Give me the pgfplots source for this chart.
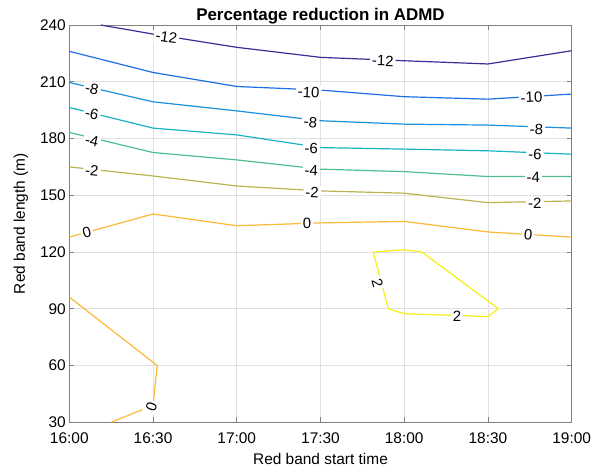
\documentclass[border=0pt]{standalone}
\usepackage{fontspec}
\setmainfont{Liberation Sans}
\usepackage{pgfplots}
\pgfplotsset{compat=1.18}
\definecolor{c12}{RGB}{60,45,150}
\definecolor{c10}{RGB}{30,110,230}
\definecolor{c8}{RGB}{25,145,220}
\definecolor{c6}{RGB}{25,180,195}
\definecolor{c4}{RGB}{80,190,140}
\definecolor{c2}{RGB}{185,180,80}
\definecolor{c0}{RGB}{252,185,55}
\definecolor{cp2}{RGB}{245,240,20}
\begin{document}
\begin{tikzpicture}
\useasboundingbox (0,0) rectangle (604bp,473bp);
\begin{axis}[
  at={(69.3bp,50.7bp)}, anchor=south west,
  scale only axis, width=502.4bp, height=397.3bp,
  xmin=0, xmax=6, ymin=30, ymax=240,
  xtick={0,1,2,3,4,5,6},
  xticklabels={16:00,16:30,17:00,17:30,18:00,18:30,19:00},
  ytick={30,60,90,120,150,180,210,240},
  /pgf/number format/assume math mode=true,
  tick label style={font=\fontsize{15.5}{18}\selectfont},
  label style={font=\fontsize{15.5}{18}\selectfont},
  title style={font=\fontsize{17}{20}\selectfont\bfseries, yshift=-9bp},
  title={Percentage reduction in ADMD},
  xlabel={Red band start time},
  ylabel={Red band length (m)},
  xticklabel shift=7bp,
  xlabel shift=3bp,
  ylabel shift=5bp,
  grid=major, grid style={color=black!12, line width=0.6bp},
  axis line style={color=black!50, line width=0.8bp},
  tick style={color=black!50, line width=0.8bp},
  major tick length=5bp,
  tick align=inside, tick pos=both,
  every axis plot/.append style={line width=1.2bp, mark=none},
]
% -12
\addplot[c12] coordinates {(0.375,240) (1,235.2) (2,228.2) (3,222.9) (4,221.1) (5,219.4) (6,226.4)};
% -10
\addplot[c10] coordinates {(0,226.1) (1,214.9) (2,207.5) (3,205.6) (4,202.1) (5,200.8) (6,203.5)};
% -8
\addplot[c8] coordinates {(0,209.6) (1,199.4) (2,194.6) (3,189.4) (4,187.6) (5,187.1) (6,185.5)};
% -6
\addplot[c6] coordinates {(0,196.4) (1,185.5) (2,181.9) (3,175.2) (4,174.4) (5,173.5) (6,171.7)};
% -4
\addplot[c4] coordinates {(0,183.2) (1,172.6) (2,168.7) (3,163.8) (4,162.5) (5,159.9) (6,159.9)};
% -2
\addplot[c2] coordinates {(0,165) (1,160.2) (2,154.9) (3,152.3) (4,151.1) (5,146.1) (6,147)};
% 0 upper
\addplot[c0] coordinates {(0,127.9) (1,140.1) (2,133.9) (3,135.4) (4,136.2) (5,130.6) (6,127.9)};
% 0 lower left
\addplot[c0] coordinates {(0,96.2) (1.05,60) (1.0,39) (0.5,30)};
% 2 closed
\addplot[cp2] coordinates {(3.63,120) (4.0,121.2) (4.21,120) (5.125,90) (5.0,85.9) (4.0,87.4) (3.81,90) (3.63,120)};
% labels
\begin{scope}[every node/.style={fill=white, inner sep=2bp, font=\fontsize{15}{17}\selectfont}]
\node[rotate=-8] at (axis cs:1.16,233.5) {-12};
\node[rotate=-2] at (axis cs:3.745,221.1) {-12};
\node[rotate=-3] at (axis cs:2.86,204.4) {-10};
\node[rotate=3] at (axis cs:5.52,201.7) {-10};
\node[rotate=-12] at (axis cs:0.27,206.1) {-8};
\node[rotate=-5] at (axis cs:2.88,188.5) {-8};
\node[rotate=-2] at (axis cs:5.58,184.9) {-8};
\node[rotate=-12] at (axis cs:0.27,192.9) {-6};
\node[rotate=-2] at (axis cs:2.89,174.9) {-6};
\node[rotate=-2] at (axis cs:5.56,171.7) {-6};
\node[rotate=-12] at (axis cs:0.27,178.8) {-4};
\node[rotate=-3] at (axis cs:2.89,162.9) {-4};
\node at (axis cs:5.54,159.4) {-4};
\node[rotate=-6] at (axis cs:0.27,162.9) {-2};
\node[rotate=-3] at (axis cs:2.9,151.4) {-2};
\node at (axis cs:5.56,145.6) {-2};
\node[rotate=15] at (axis cs:0.21,130.1) {0};
\node at (axis cs:2.84,135) {0};
\node[rotate=-5] at (axis cs:5.48,129.2) {0};
\node[rotate=70] at (axis cs:0.98,38.3) {0};
\node[rotate=-75] at (axis cs:3.68,103.6) {2};
\node at (axis cs:4.63,85.9) {2};
\end{scope}
\end{axis}
\end{tikzpicture}
\end{document}
